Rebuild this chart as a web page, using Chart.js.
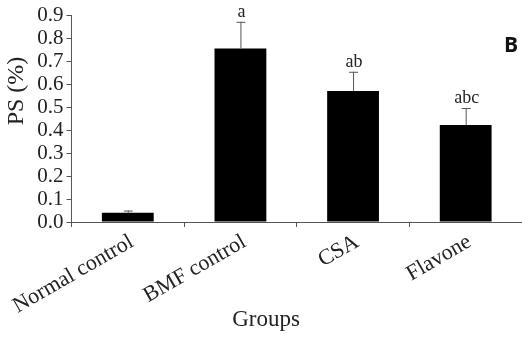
<!DOCTYPE html>
<html><head><meta charset="utf-8">
<script src="https://cdn.jsdelivr.net/npm/chart.js@4/dist/chart.umd.min.js"></script>
<style>html,body{margin:0;padding:0;background:#fff;overflow:hidden}#wrap{width:522px;height:338px;position:relative}</style>
</head><body><div id="wrap"><canvas id="c"></canvas></div>
<script>
const categories = ["Normal control", "BMF control", "CSA", "Flavone"];
const psValues = [0.04, 0.757, 0.571, 0.423];
const psErrors = [0.01, 0.116, 0.084, 0.074];
const sigLetters = ["", "a", "ab", "abc"];
const yTicks = [0.0, 0.1, 0.2, 0.3, 0.4, 0.5, 0.6, 0.7, 0.8, 0.9];

const SERIF = '"Liberation Serif", "DejaVu Serif", serif';

const extras = {
  id: 'extras',
  afterDatasetsDraw(chart) {
    const ctx = chart.ctx;
    const meta = chart.getDatasetMeta(0);
    const y = chart.scales.y;
    ctx.save();
    meta.data.forEach((bar, i) => {
      const top = y.getPixelForValue(psValues[i] + psErrors[i]);
      ctx.strokeStyle = '#555';
      ctx.lineWidth = 1;
      ctx.beginPath();
      ctx.moveTo(bar.x + 0.5, bar.y);
      ctx.lineTo(bar.x + 0.5, top);
      ctx.moveTo(bar.x - 4, top + 0.5);
      ctx.lineTo(bar.x + 5, top + 0.5);
      ctx.stroke();
      if (sigLetters[i]) {
        ctx.fillStyle = '#222';
        ctx.font = '18px ' + SERIF;
        ctx.textAlign = 'center';
        ctx.textBaseline = 'alphabetic';
        ctx.fillText(sigLetters[i], bar.x + 1, top - 5);
      }
    });
    // axis titles
    ctx.fillStyle = '#222';
    ctx.font = '23px ' + SERIF;
    ctx.textAlign = 'center';
    ctx.textBaseline = 'middle';
    ctx.fillText('Groups', 266, 320);
    ctx.save();
    ctx.translate(17, 91);
    ctx.rotate(-Math.PI / 2);
    ctx.font = '24px ' + SERIF;
    ctx.fillText('PS (%)', 0, 0);
    ctx.restore();
    // panel label
    ctx.font = 'bold 21px "Open Sans", "DejaVu Sans", sans-serif';
    ctx.fillStyle = '#111';
    ctx.fillText('B', 511, 46);
    ctx.restore();
  }
};

new Chart(document.getElementById('c'), {
  type: 'bar',
  data: {
    labels: categories,
    datasets: [{
      data: psValues,
      backgroundColor: '#000',
      borderWidth: 0,
      barPercentage: 0.46,
      categoryPercentage: 1
    }]
  },
  options: {
    responsive: true,
    maintainAspectRatio: false,
    animation: false,
    devicePixelRatio: 1,
    layout: { padding: { top: 15, right: 0, bottom: 0, left: 0 } },
    plugins: { legend: { display: false }, tooltip: { enabled: false } },
    scales: {
      x: {
        grid: { display: true, offset: true, drawOnChartArea: false, tickLength: 5, color: '#555' },
        border: { display: true, color: '#555', width: 1 },
        ticks: {
          maxRotation: 30, minRotation: 30, padding: 2, autoSkip: false, labelOffset: 4,
          color: '#222', font: { family: SERIF, size: 22 }
        },
        afterFit(s) { s.height = 116; }
      },
      y: {
        min: 0, max: 0.9,
        afterBuildTicks(s) { s.ticks = yTicks.map(v => ({ value: v })); },
        grid: { display: true, drawOnChartArea: false, tickLength: 5, color: '#555' },
        border: { display: true, color: '#555', width: 1 },
        ticks: {
          padding: 3, color: '#222', font: { family: SERIF, size: 21 }, autoSkip: false,
          callback: v => Number(v).toFixed(1)
        },
        afterFit(s) { s.width = 71; }
      }
    }
  },
  plugins: [extras]
});
</script></body></html>
